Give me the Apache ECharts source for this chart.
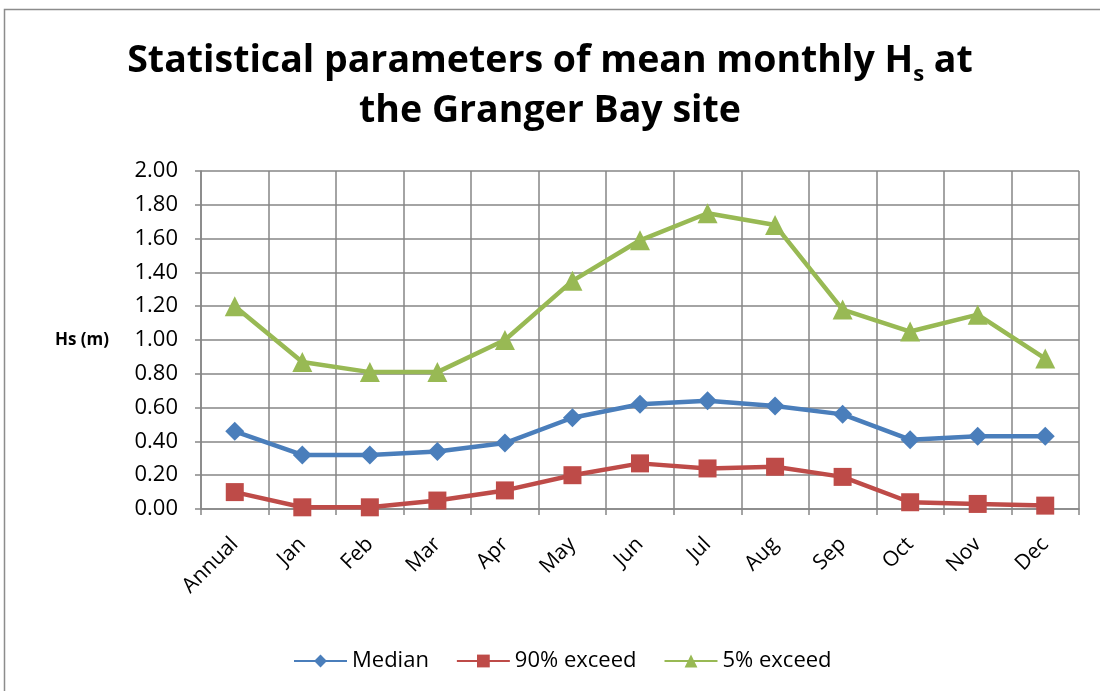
<!DOCTYPE html>
<html><head><meta charset="utf-8">
<script src="https://cdn.jsdelivr.net/npm/echarts@6/dist/echarts.min.js"></script>
<style>html,body{margin:0;padding:0;background:#fff}#c{width:1100px;height:691px}</style>
</head><body><div id="c"></div>
<script>
const categories = ['Annual','Jan','Feb','Mar','Apr','May','Jun','Jul','Aug','Sep','Oct','Nov','Dec'];
const median = [0.46,0.32,0.32,0.34,0.39,0.54,0.62,0.64,0.61,0.56,0.41,0.43,0.43];
const exceed90 = [0.10,0.01,0.01,0.05,0.11,0.20,0.27,0.24,0.25,0.19,0.04,0.03,0.02];
const exceed5 = [1.20,0.87,0.81,0.81,1.00,1.35,1.59,1.75,1.68,1.18,1.05,1.15,0.89];
const yTicks = {min:0, max:2, interval:0.2};
const font = '"Open Sans", "Noto Sans", sans-serif';

const chart = echarts.init(document.getElementById('c'), null, {renderer:'canvas'});
chart.setOption({
  animation:false,
  backgroundColor:'#fff',
  graphic:[{type:'rect', shape:{x:4.5,y:9.5,width:1100,height:700}, style:{fill:'none', stroke:'#8c8c8c', lineWidth:1.5}, silent:true}],
  title:{
    text:'{t|Statistical parameters of mean monthly H}{s|s}{t| at}\n{t|the Granger Bay site}',
    left:'center', top:31,
    textStyle:{rich:{
      t:{fontFamily:font, fontWeight:'bold', fontSize:37.5, color:'#000', lineHeight:50, letterSpacing:-0.8},
      s:{fontFamily:font, fontWeight:'bold', fontSize:22, color:'#000', lineHeight:50, verticalAlign:'bottom', padding:[20,0,0,0]}
    }}
  },
  grid:{left:201, right:21, top:171, bottom:182, containLabel:false},
  legend:{
    top:644, left:288, itemWidth:53, itemHeight:16, itemGap:27,
    textStyle:{fontFamily:font, fontSize:22, color:'#000', lineHeight:24},
    data:['Median','90% exceed','5% exceed']
  },
  xAxis:{
    type:'category', data:categories, boundaryGap:true,
    axisLine:{lineStyle:{color:'#868686', width:1.5}},
    axisTick:{show:true, length:6, lineStyle:{color:'#868686', width:1.5}},
    splitLine:{show:true, lineStyle:{color:'#868686', width:1.5}},
    axisLabel:{rotate:45, fontFamily:font, fontSize:21, color:'#000', margin:32, interval:0}
  },
  yAxis:{
    type:'value', min:yTicks.min, max:yTicks.max, interval:yTicks.interval,
    name:'Hs (m)', nameLocation:'middle', nameRotate:0, nameGap:92, nameMoveOverlap:false,
    nameTextStyle:{fontFamily:font, fontWeight:'bold', fontSize:17, color:'#000'},
    axisLine:{show:true, lineStyle:{color:'#868686', width:1.5}},
    axisTick:{show:true, length:6, lineStyle:{color:'#868686', width:1.5}},
    splitLine:{show:true, lineStyle:{color:'#868686', width:1.5}},
    axisLabel:{formatter:v=>v.toFixed(2), fontFamily:font, fontSize:22, color:'#000', margin:23}
  },
  series:[
    {name:'Median', type:'line', data:median, symbol:'diamond', symbolSize:19,
     color:'#4A7EBB', lineStyle:{width:4.5, color:'#4A7EBB'}, itemStyle:{color:'#4A7EBB'}, z:3},
    {name:'90% exceed', type:'line', data:exceed90, symbol:'rect', symbolSize:18,
     color:'#BE4B48', lineStyle:{width:4.5, color:'#BE4B48'}, itemStyle:{color:'#BE4B48'}, z:2},
    {name:'5% exceed', type:'line', data:exceed5, symbol:'triangle', symbolSize:20,
     color:'#98B954', lineStyle:{width:4.5, color:'#98B954'}, itemStyle:{color:'#98B954'}, z:4}
  ]
});
</script></body></html>
